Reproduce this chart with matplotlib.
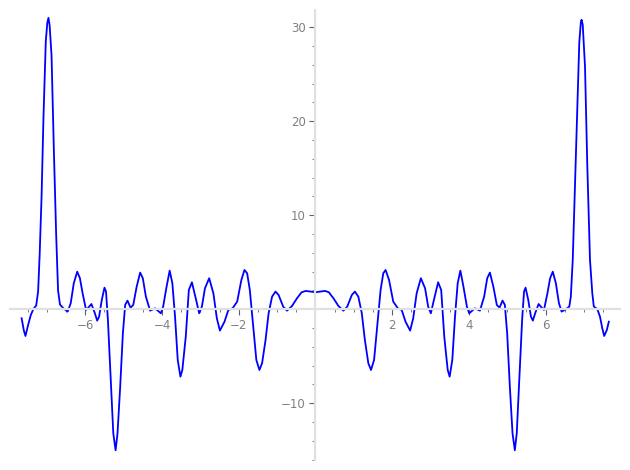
import matplotlib
matplotlib.use('Agg')
import matplotlib.pyplot as plt
from matplotlib.ticker import FixedLocator
import numpy as np

# Values (x, y), left to right
X_VALUES = [
    -7.66, -7.60, -7.56, -7.49, -7.42, -7.35, -7.28, -7.23, -7.19, -7.14,
    -7.09, -7.03, -6.99, -6.96, -6.93, -6.88, -6.82, -6.76, -6.71, -6.66,
    -6.57, -6.46, -6.38, -6.30, -6.21, -6.14, -6.07, -5.98, -5.92, -5.84,
    -5.75, -5.69, -5.64, -5.57, -5.50, -5.46, -5.41, -5.34, -5.27, -5.21,
    -5.16, -5.09, -5.02, -4.96, -4.90, -4.82, -4.75, -4.66, -4.57, -4.50,
    -4.42, -4.31, -4.18, -4.03, -3.97, -3.88, -3.80, -3.73, -3.66, -3.59,
    -3.52, -3.47, -3.38, -3.30, -3.22, -3.11, -3.03, -2.96, -2.88, -2.77,
    -2.66, -2.57, -2.49, -2.37, -2.27, -2.16, -2.04, -1.93, -1.85, -1.78,
    -1.71, -1.62, -1.54, -1.46, -1.39, -1.30, -1.22, -1.13, -1.04, -0.96,
    -0.84, -0.74, -0.61, -0.48, -0.36, -0.25, -0.12,
    0.00, 0.12, 0.25, 0.35, 0.47, 0.60, 0.73, 0.83, 0.95, 1.03,
    1.12, 1.21, 1.29, 1.38, 1.45, 1.53, 1.61, 1.70, 1.77, 1.83,
    1.92, 2.03, 2.15, 2.25, 2.35, 2.47, 2.55, 2.64, 2.75, 2.86,
    2.94, 3.01, 3.09, 3.20, 3.28, 3.36, 3.45, 3.50, 3.57, 3.64,
    3.71, 3.78, 3.86, 3.95, 4.01, 4.16, 4.29, 4.40, 4.48, 4.55,
    4.64, 4.73, 4.80, 4.88, 4.94, 5.00, 5.07, 5.14, 5.20, 5.25,
    5.32, 5.39, 5.44, 5.48, 5.55, 5.62, 5.67, 5.73, 5.82, 5.90,
    5.96, 6.05, 6.12, 6.19, 6.27, 6.35, 6.42, 6.53, 6.62, 6.66,
    6.71, 6.76, 6.81, 6.88, 6.92, 6.94, 6.97, 7.03, 7.09, 7.16,
    7.22, 7.26, 7.35, 7.42, 7.48, 7.53, 7.60, 7.65,
]
Y_VALUES = [
    -0.96, -2.30, -2.84, -1.67, -0.60, 0.05, 0.40, 1.90, 5.80, 12.0,
    20.5, 28.5, 30.5, 31.0, 30.2, 27.0, 17.0, 8.0, 2.0, 0.50,
    0.10, -0.25, 0.64, 2.77, 4.00, 3.30, 1.70, -0.07, 0.17, 0.56,
    -0.43, -1.21, -0.78, 0.99, 2.30, 1.88, -1.14, -7.17, -13.2, -15.0,
    -13.2, -8.23, -2.55, 0.46, 0.92, 0.17, 0.46, 2.41, 3.90, 3.30,
    1.34, -0.15, 0.10, -0.43, 0.28, 2.41, 4.11, 2.77, -0.78, -5.39,
    -7.17, -6.46, -2.91, 2.05, 2.87, 0.99, -0.43, 0.28, 2.23, 3.30,
    1.70, -0.96, -2.27, -1.32, -0.07, 0.10, 0.81, 3.12, 4.18, 3.83,
    2.05, -1.85, -5.39, -6.46, -5.74, -3.27, -0.43, 1.34, 1.88, 1.52,
    0.28, -0.15, 0.35, 1.17, 1.81, 1.95, 1.88,
    1.81, 1.88, 1.95, 1.81, 1.17, 0.35, -0.15, 0.28, 1.52, 1.88,
    1.34, -0.43, -3.27, -5.74, -6.46, -5.39, -1.85, 2.05, 3.83, 4.18,
    3.12, 0.81, 0.10, -0.07, -1.32, -2.27, -0.96, 1.70, 3.30, 2.23,
    0.28, -0.43, 0.99, 2.87, 2.05, -2.91, -6.46, -7.17, -5.39, -0.78,
    2.77, 4.11, 2.41, 0.28, -0.43, 0.10, -0.15, 1.34, 3.30, 3.90,
    2.41, 0.46, 0.17, 0.92, 0.46, -2.55, -8.23, -13.2, -15.0, -13.2,
    -7.17, -1.14, 1.88, 2.30, 0.99, -0.78, -1.21, -0.43, 0.56, 0.17,
    -0.07, 1.70, 3.30, 4.00, 2.77, 0.64, -0.25, 0.00, 0.28, 1.34,
    5.24, 12.0, 18.7, 28.3, 30.5, 30.8, 30.3, 25.8, 15.2, 5.24,
    1.70, 0.28, 0.03, -0.78, -2.02, -2.84, -2.20, -1.32,
]

X_MAJOR = [-6, -4, -2, 2, 4, 6]
Y_MAJOR = [-10, 10, 20, 30]

LINE_COLOUR = '#0000ff'
AXIS_COLOUR = '#e0e0e0'
LABEL_COLOUR = '#808080'


def main() -> None:
    fig = plt.figure(figsize=(6.3, 4.7), dpi=100)
    ax = fig.add_axes([0, 0, 1, 1])

    ax.plot(X_VALUES, Y_VALUES, color=LINE_COLOUR, linewidth=1.3)

    ax.set_xlim(-8.224, 8.203)
    ax.set_ylim(-17.10, 32.90)

    for side in ('top', 'right'):
        ax.spines[side].set_visible(False)
    ax.spines['left'].set_position(('data', 0))
    ax.spines['bottom'].set_position(('data', 0))
    ax.spines['left'].set_bounds(-16.0, 31.8)
    ax.spines['bottom'].set_bounds(-7.96, 7.94)
    for side in ('left', 'bottom'):
        ax.spines[side].set_color(AXIS_COLOUR)
        ax.spines[side].set_linewidth(1.6)

    ax.xaxis.set_major_locator(FixedLocator(X_MAJOR))
    ax.xaxis.set_minor_locator(FixedLocator(np.arange(-7.5, 7.6, 0.5)))
    ax.yaxis.set_major_locator(FixedLocator(Y_MAJOR))
    ax.yaxis.set_minor_locator(FixedLocator(np.arange(-16, 31, 2)))

    ax.tick_params(which='major', direction='out', length=4, width=0.8,
                   color='#606060', labelcolor=LABEL_COLOUR, labelsize=8.5)
    ax.tick_params(which='minor', direction='out', length=2.5, width=0.6,
                   color='#606060')
    ax.tick_params(axis='x', pad=3)
    ax.tick_params(axis='y', pad=3)
    ax.patch.set_visible(False)

    fig.savefig('out.png', dpi=100)


if __name__ == '__main__':
    main()
